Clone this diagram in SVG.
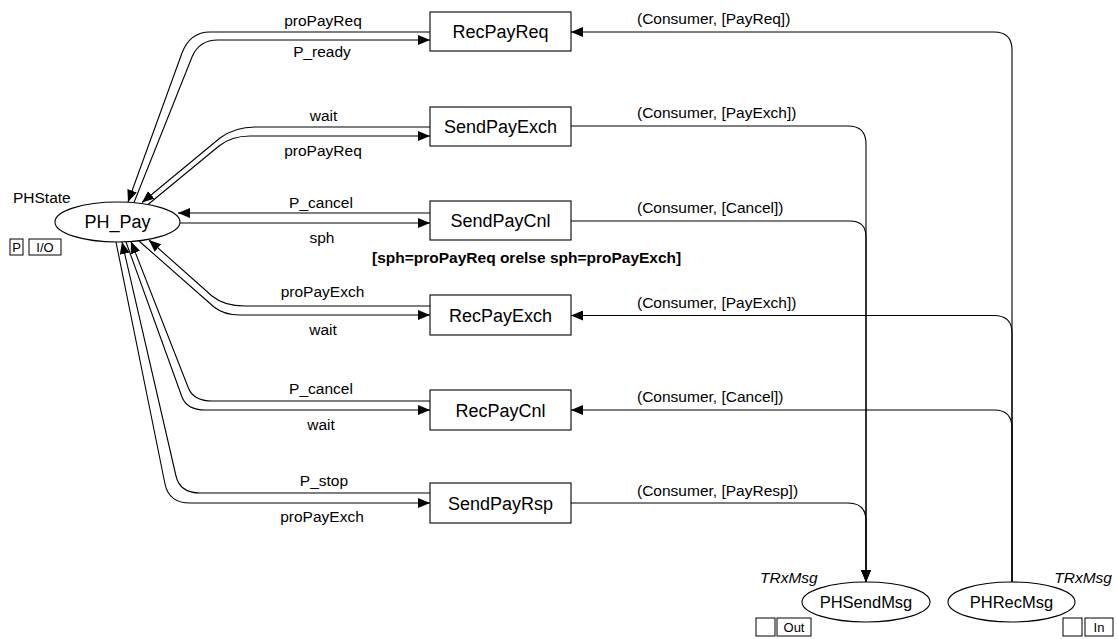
<svg xmlns="http://www.w3.org/2000/svg" width="1118" height="639" viewBox="0 0 1118 639">
<style>
text{font-family:"Liberation Sans",Arial,sans-serif;fill:#000}
.node{fill:#fff;stroke:#000;stroke-width:1.1}
.tl{font-size:18px;text-anchor:middle}
.pl{font-size:16.5px;text-anchor:middle}
.al{font-size:15.5px;text-anchor:middle}
.rl{font-size:15.5px}
.ty{font-size:15.5px}
.it{font-style:italic}
.tag{fill:#fff;stroke:#000;stroke-width:1}
.tagt{font-size:13px;text-anchor:middle}
.arc{fill:none;stroke:#000;stroke-width:1.1}
.ah{marker-end:url(#arrow)}
</style>
<defs>
<marker id="arrow" markerUnits="userSpaceOnUse" markerWidth="12" markerHeight="10" viewBox="0 0 12 10" refX="12" refY="5" orient="auto">
<path d="M0,0 L12,5 L0,10 z" fill="#000"/>
</marker>
</defs>
<rect width="1118" height="639" fill="#fff"/>
<g id="connectors">
<path class="arc ah" d="M430 32 L210 32 Q190 32 182 53 L128 202"/>
<path class="arc ah" d="M134 202.5 L192 57 Q199 40 218 40 L430 40"/>
<path class="arc ah" d="M430 127 L255 127 Q235 127 220 138 L142 202.5"/>
<path class="arc ah" d="M148 204.5 L219 146 Q231.5 136 250 136 L430 136"/>
<path class="arc ah" d="M430 213 L178 213"/>
<path class="arc ah" d="M180 223 L430 223"/>
<path class="arc ah" d="M430 306 L245 306 Q224 306 212 296 L149 240"/>
<path class="arc ah" d="M139 241 L214 307 Q224 315 240 315 L430 315"/>
<path class="arc ah" d="M430 401 L212 401 Q193 401 188 387 L131 241.5"/>
<path class="arc ah" d="M126 242 L182 397 Q187 410 205 410 L430 410"/>
<path class="arc ah" d="M430 493 L200 493 Q180 493 176 476 L122 242"/>
<path class="arc ah" d="M116 242 L165 484 Q169 503 190 503 L430 503"/>
<path class="arc ah" d="M571 126 L848 126 Q866 126 866 144 L866 582"/>
<path class="arc ah" d="M571 221 L850 221 Q866 221 866 237 L866 582"/>
<path class="arc ah" d="M571 503 L848 503 Q866 503 866 521 L866 582"/>
<path class="arc ah" d="M1012 582 L1012 50 Q1012 32 994 32 L571 32"/>
<path class="arc ah" d="M1012 582 L1012 333 Q1012 315.5 994 315.5 L571 315.5"/>
<path class="arc ah" d="M1012 582 L1012 428 Q1012 410 994 410 L571 410"/>
<text class="al" x="323" y="26">proPayReq</text>
<text class="al" x="322" y="57">P_ready</text>
<text class="al" x="323.5" y="121">wait</text>
<text class="al" x="323" y="156">proPayReq</text>
<text class="al" x="321" y="208">P_cancel</text>
<text class="al" x="322" y="243">sph</text>
<text class="al" x="322.5" y="297">proPayExch</text>
<text class="al" x="323" y="335">wait</text>
<text class="al" x="321" y="394">P_cancel</text>
<text class="al" x="321" y="430">wait</text>
<text class="al" x="324" y="486">P_stop</text>
<text class="al" x="322" y="522">proPayExch</text>
<text class="rl" x="637" y="24">(Consumer, [PayReq])</text>
<text class="rl" x="637" y="118">(Consumer, [PayExch])</text>
<text class="rl" x="637" y="213">(Consumer, [Cancel])</text>
<text class="rl" x="637" y="308">(Consumer, [PayExch])</text>
<text class="rl" x="637" y="402">(Consumer, [Cancel])</text>
<text class="rl" x="637" y="496">(Consumer, [PayResp])</text>
</g>
<g id="PH_Pay">
<ellipse class="node" cx="117.5" cy="222" rx="62.5" ry="20"/>
<text class="pl" x="117.5" y="228" style="font-size:18px">PH_Pay</text>
<text class="ty" x="13" y="203">PHState</text>
<rect class="tag" x="10" y="239" width="13" height="16"/>
<text class="tagt" x="16.5" y="252">P</text>
<rect class="tag" x="29" y="239" width="32" height="16"/>
<text class="tagt" x="45" y="252">I/O</text>
</g>
<g id="RecPayReq">
<rect class="node" x="430" y="12" width="141" height="39"/>
<text class="tl" x="500.5" y="38">RecPayReq</text>
</g>
<g id="SendPayExch">
<rect class="node" x="430" y="107" width="141" height="39"/>
<text class="tl" x="500.5" y="133">SendPayExch</text>
</g>
<g id="SendPayCnl">
<rect class="node" x="430" y="201" width="141" height="39"/>
<text class="tl" x="500.5" y="227">SendPayCnl</text>
<text x="372" y="263" style="font-size:15.5px;font-weight:bold">[sph=proPayReq orelse sph=proPayExch]</text>
</g>
<g id="RecPayExch">
<rect class="node" x="430" y="295" width="141" height="40"/>
<text class="tl" x="500.5" y="321.5">RecPayExch</text>
</g>
<g id="RecPayCnl">
<rect class="node" x="430" y="390" width="141" height="40"/>
<text class="tl" x="500.5" y="416.5">RecPayCnl</text>
</g>
<g id="SendPayRsp">
<rect class="node" x="430" y="483" width="141" height="40"/>
<text class="tl" x="500.5" y="509.5">SendPayRsp</text>
</g>
<g id="PHSendMsg">
<ellipse class="node" cx="866" cy="602" rx="64" ry="20"/>
<text class="pl" x="866" y="608">PHSendMsg</text>
<text class="ty it" x="760" y="583">TRxMsg</text>
<rect class="tag" x="756" y="618" width="19" height="18"/>
<rect class="tag" x="777" y="618" width="34" height="18"/>
<text class="tagt" x="794" y="632">Out</text>
</g>
<g id="PHRecMsg">
<ellipse class="node" cx="1011.5" cy="602" rx="63.5" ry="20"/>
<text class="pl" x="1011.5" y="608">PHRecMsg</text>
<text class="ty it" x="1112" y="583" style="text-anchor:end">TRxMsg</text>
<rect class="tag" x="1063" y="618" width="19" height="18"/>
<rect class="tag" x="1085" y="618" width="28" height="18"/>
<text class="tagt" x="1099" y="632">In</text>
</g>
</svg>
